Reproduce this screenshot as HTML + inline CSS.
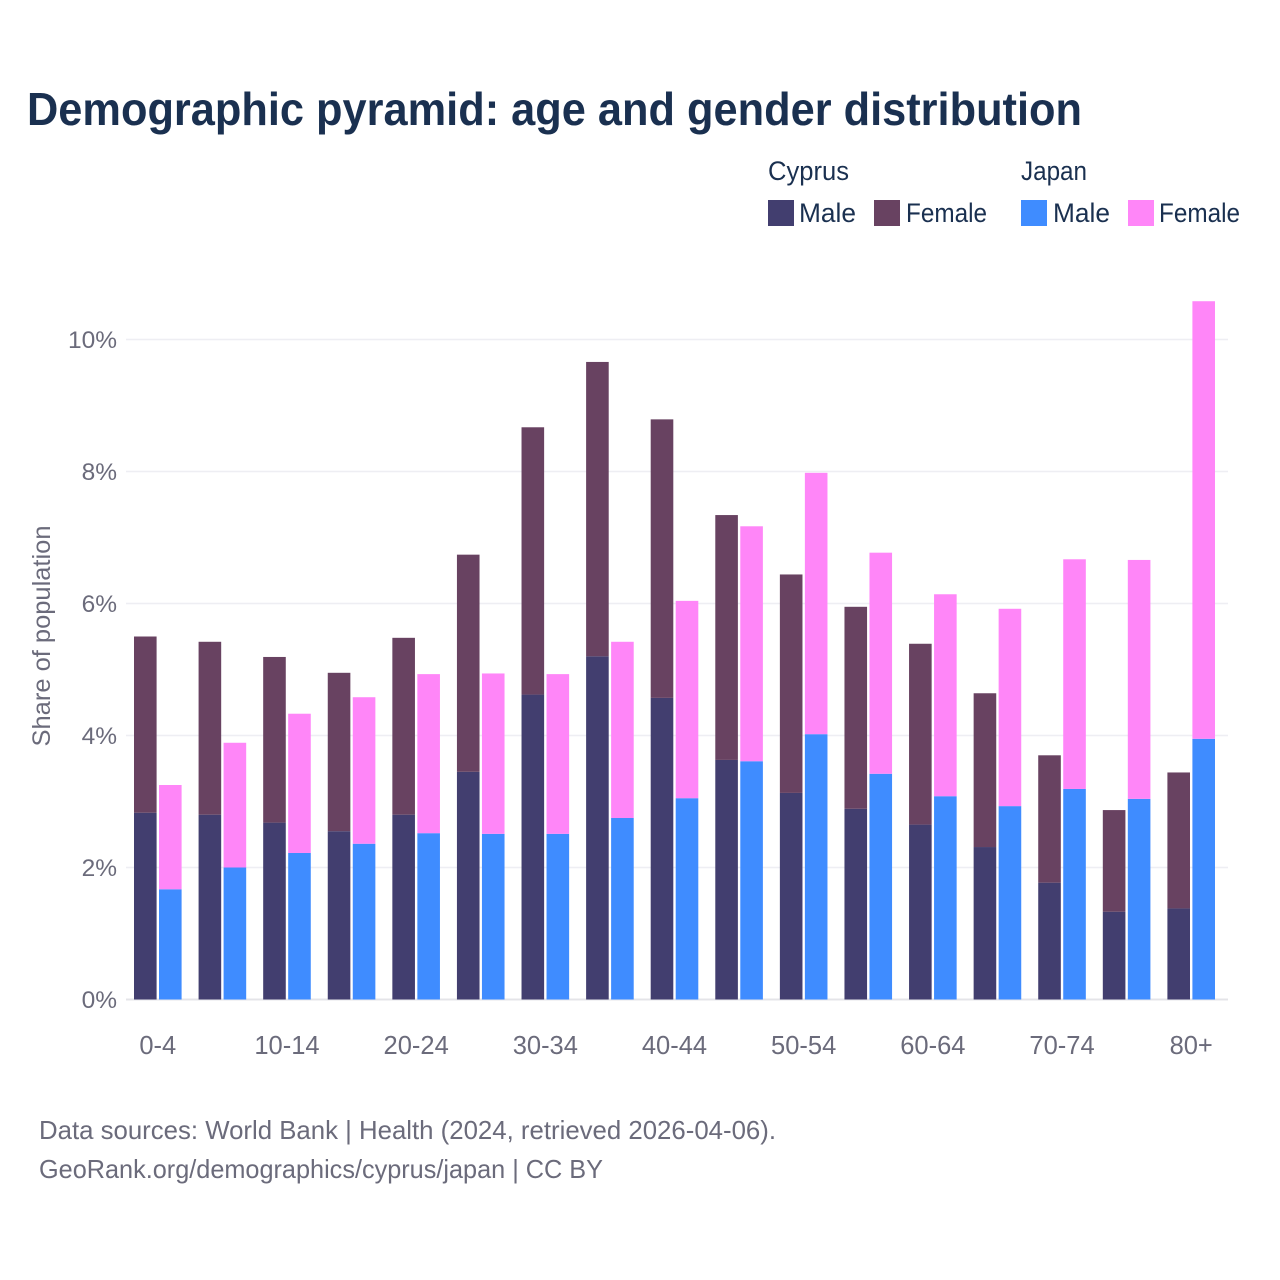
<!DOCTYPE html>
<html lang="en">
<head>
<meta charset="utf-8">
<title>Demographic pyramid: age and gender distribution</title>
<style>
html,body{margin:0;padding:0;background:#fff;}
svg{display:block;font-family:"Liberation Sans",Arial,sans-serif;}
</style>
</head>
<body>
<svg id="chart" width="1280" height="1280" viewBox="0 0 1280 1280" xmlns="http://www.w3.org/2000/svg">
  <rect x="0" y="0" width="1280" height="1280" fill="#ffffff"/>
  <text x="27" y="125" font-size="46.5" font-weight="700" fill="#1a3050" textLength="1055" lengthAdjust="spacingAndGlyphs">Demographic pyramid: age and gender distribution</text>

  <g font-size="26.5" fill="#1a3050">
    <text x="768" y="180" textLength="81" lengthAdjust="spacingAndGlyphs">Cyprus</text>
    <text x="1021" y="180" textLength="66" lengthAdjust="spacingAndGlyphs">Japan</text>
    <rect x="768" y="200" width="26" height="26" fill="#423e6f"/>
    <text x="799" y="222" textLength="57" lengthAdjust="spacingAndGlyphs">Male</text>
    <rect x="874" y="200" width="26" height="26" fill="#684261"/>
    <text x="906" y="222" textLength="81" lengthAdjust="spacingAndGlyphs">Female</text>
    <rect x="1021" y="200" width="26" height="26" fill="#3f8cff"/>
    <text x="1053" y="222" textLength="57" lengthAdjust="spacingAndGlyphs">Male</text>
    <rect x="1128" y="200" width="26" height="26" fill="#ff86f8"/>
    <text x="1159" y="222" textLength="81" lengthAdjust="spacingAndGlyphs">Female</text>
  </g>

  <g id="grid"></g>
  <g id="bars"></g>
  <g id="yticks"></g>
  <g id="xticks"></g>

  <text transform="translate(50,636) rotate(-90)" text-anchor="middle" font-size="25" fill="#6b6b7b" textLength="221" lengthAdjust="spacingAndGlyphs">Share of population</text>

  <text x="39" y="1139" font-size="26" fill="#6b6b7b" textLength="737" lengthAdjust="spacingAndGlyphs">Data sources: World Bank | Health (2024, retrieved 2026-04-06).</text>
  <text x="39" y="1178" font-size="26" fill="#6b6b7b" textLength="564" lengthAdjust="spacingAndGlyphs">GeoRank.org/demographics/cyprus/japan | CC BY</text>
</svg>
<script>
const categories = ["0-4","5-9","10-14","15-19","20-24","25-29","30-34","35-39","40-44","45-49","50-54","55-59","60-64","65-69","70-74","75-79","80+"];
const xTickLabels = ["0-4","10-14","20-24","30-34","40-44","50-54","60-64","70-74","80+"];
const yTickValues = [0,2,4,6,8,10];
const cyprusMale = [2.83,2.80,2.68,2.55,2.80,3.45,4.62,5.20,4.57,3.63,3.13,2.89,2.65,2.31,1.77,1.33,1.38];
const cyprusFemale = [2.67,2.62,2.51,2.40,2.68,3.29,4.05,4.46,4.22,3.71,3.31,3.06,2.74,2.33,1.93,1.54,2.06];
const japanMale = [1.67,2.00,2.22,2.36,2.52,2.51,2.51,2.75,3.05,3.61,4.02,3.42,3.08,2.93,3.19,3.04,3.95];
const japanFemale = [1.58,1.89,2.11,2.22,2.41,2.43,2.42,2.67,2.99,3.56,3.96,3.35,3.06,2.99,3.48,3.62,6.63];

const NS = "http://www.w3.org/2000/svg";
const yScale = function (v) { return 999.5 - v * 66; };
const xCenter = function (i) { return 157.8 + i * (1191.2 - 157.8) / (categories.length - 1); };
const barWidth = 22.6;
const barGap = 2.4;

function makeRect(parent, x, y0, y1, fill) {
  const r = document.createElementNS(NS, "rect");
  r.setAttribute("x", x);
  r.setAttribute("y", y1);
  r.setAttribute("width", barWidth);
  r.setAttribute("height", Math.max(0, y0 - y1));
  r.setAttribute("fill", fill);
  parent.appendChild(r);
  return r;
}

const gridG = document.getElementById("grid");
const yG = document.getElementById("yticks");
yTickValues.forEach(function (v) {
  const line = document.createElementNS(NS, "line");
  
  
  line.setAttribute("x1", 126);
  line.setAttribute("x2", 1228);
  line.setAttribute("y1", yScale(v));
  line.setAttribute("y2", yScale(v));
  line.setAttribute("stroke", v === 0 ? "#e4e4e8" : "#eeeef3");
  line.setAttribute("stroke-width", v === 0 ? 2 : 1.5);
  gridG.appendChild(line);

  const t = document.createElementNS(NS, "text");
  
  
  t.setAttribute("x", 117);
  t.setAttribute("y", yScale(v) + 8.5);
  t.setAttribute("text-anchor", "end");
  t.setAttribute("font-size", "24.5");
  t.setAttribute("fill", "#6b6b7b");
  t.textContent = v + "%";
  yG.appendChild(t);
});

const barsG = document.getElementById("bars");
categories.forEach(function (c, i) {
  const cx = xCenter(i);
  const leftX = cx - barGap / 2 - barWidth;
  const rightX = cx + barGap / 2;

  const a = makeRect(barsG, leftX, yScale(0), yScale(cyprusMale[i]), "#423e6f");
  
  
  const b = makeRect(barsG, leftX, yScale(cyprusMale[i]), yScale(cyprusMale[i] + cyprusFemale[i]), "#684261");
  
  
  const d = makeRect(barsG, rightX, yScale(0), yScale(japanMale[i]), "#3f8cff");
  
  
  const e = makeRect(barsG, rightX, yScale(japanMale[i]), yScale(japanMale[i] + japanFemale[i]), "#ff86f8");
  
  
});

const xG = document.getElementById("xticks");
xTickLabels.forEach(function (label) {
  const t = document.createElementNS(NS, "text");
  
  
  t.setAttribute("x", xCenter(categories.indexOf(label)));
  t.setAttribute("y", 1054);
  t.setAttribute("text-anchor", "middle");
  t.setAttribute("font-size", "25.5");
  t.setAttribute("fill", "#6b6b7b");
  t.textContent = label;
  xG.appendChild(t);
});
</script>
</body>
</html>
